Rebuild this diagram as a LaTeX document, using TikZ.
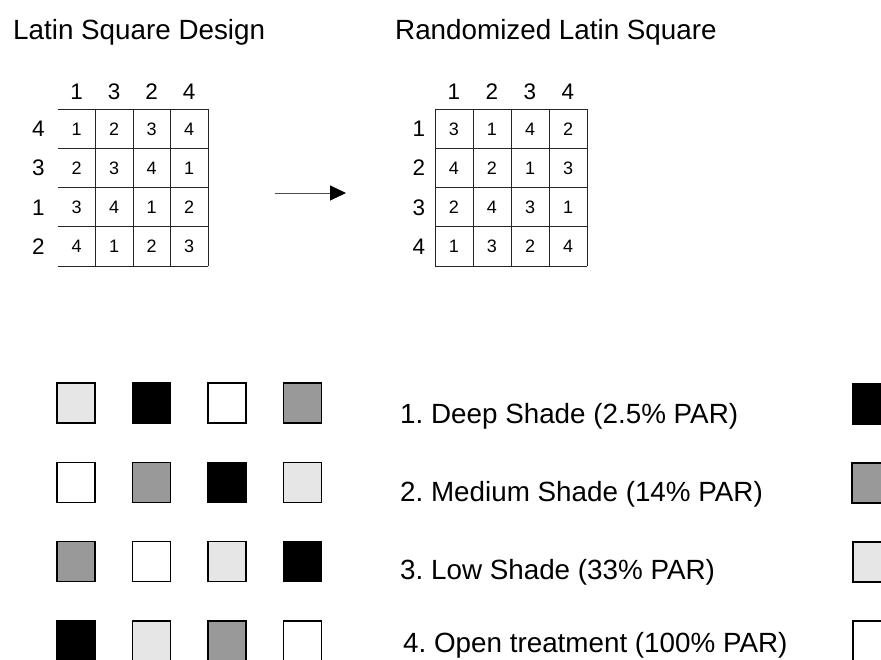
\documentclass[tikz,border=0pt]{standalone}
\usepackage{fontspec}
\setmainfont{Liberation Sans}
\usetikzlibrary{arrows.meta}
\definecolor{lightshade}{HTML}{E6E6E6}
\definecolor{midshade}{HTML}{999999}
\frenchspacing
\begin{document}
\begin{tikzpicture}[x=1pt,y=-1pt,
  title/.style={font=\fontsize{27.8}{33}\selectfont, anchor=base west, inner sep=0pt},
  legend/.style={font=\fontsize{27.8}{33}\selectfont, anchor=base west, inner sep=0pt},
  hdr/.style={font=\fontsize{22.5}{26}\selectfont, anchor=base, inner sep=0pt},
  cellnum/.style={font=\fontsize{18}{21}\selectfont, anchor=base, inner sep=0pt},
  gridline/.style={draw=black!85, line width=1pt},
  sq/.style={draw=black, line width=1.6pt, minimum width=38pt, minimum height=40pt, inner sep=0pt, outer sep=0pt, anchor=north west},
]
\useasboundingbox (0,0) rectangle (881,659);
\fill[white] (0,0) rectangle (881,659);

% titles
\node[title] (t1) at (13,39) {Latin Square Design};
\node[title] (t2) at (395,39) {Randomized Latin Square};

% ---- left grid ----
\foreach \i/\h in {1/1,2/3,3/2,4/4}
  \node[hdr] (lh\i) at ({58+37.5*(\i-0.5)},99) {\h};
\foreach \j/\r in {1/4,2/3,3/1,4/2}
  \node[hdr] (lr\j) at (38.5,{109+39.25*(\j-0.5)+8}) {\r};
\foreach \j in {1,...,4}
  \foreach \i in {1,...,4}{
    \pgfmathtruncatemacro\v{mod(\i+\j-2,4)+1}
    \node[cellnum] (lc\j\i) at ({58+37.5*(\i-0.5)},{109+39.25*(\j-0.5)+6.4}) {\v};
  }
\foreach \j in {0,...,4}
  \draw[gridline] (58,{109+39.25*\j}) -- (208,{109+39.25*\j});
\foreach \i in {1,...,4}
  \draw[gridline] ({58+37.5*\i},109) -- ({58+37.5*\i},266);

% ---- right grid ----
\foreach \i in {1,...,4}
  \node[hdr] (rh\i) at ({435+38*(\i-0.5)},99) {\i};
\foreach \j in {1,...,4}
  \node[hdr] (rr\j) at (419,{109+39.25*(\j-0.5)+8}) {\j};
\foreach \row [count=\j] in {{3,1,4,2},{4,2,1,3},{2,4,3,1},{1,3,2,4}}
  \foreach \v [count=\i] in \row
    \node[cellnum] (rc\j\i) at ({435+38*(\i-0.5)},{109+39.25*(\j-0.5)+6.4}) {\v};
\foreach \j in {0,...,4}
  \draw[gridline] (435,{109+39.25*\j}) -- (587,{109+39.25*\j});
\foreach \i in {0,...,4}
  \draw[gridline] ({435+38*\i},109) -- ({435+38*\i},266);

% arrow
\coordinate (a0) at (275,193);
\coordinate (a1) at (346,193);
\draw[draw=black!70, line width=1pt, -{Triangle[length=16pt,width=15pt,color=black]}] (a0) -- (a1);

% ---- shade squares ----
\foreach \row [count=\j] in {{lightshade,black,white,midshade},{white,midshade,black,lightshade},{midshade,white,lightshade,black},{black,lightshade,midshade,white}}
  \foreach \c [count=\i] in \row
    \node[sq, fill=\c] (s\j\i) at ({57+75.5*(\i-1)},{383+79.3*(\j-1)}) {};

% legend
\node[legend] (l1) at (400,423) {1. Deep Shade (2.5\% PAR)};
\node[legend] (l2) at (400,501) {2. Medium Shade (14\% PAR)};
\node[legend] (l3) at (400,579) {3. Low Shade (33\% PAR)};
\node[legend] (l4) at (403,652.5) {4. Open treatment (100\% PAR)};

\node[sq, fill=black] (k1) at (853,384) {};
\node[sq, fill=midshade] (k2) at (852,463) {};
\node[sq, fill=lightshade] (k3) at (853,542) {};
\node[sq, fill=white] (k4) at (853,621) {};
\end{tikzpicture}
\end{document}
